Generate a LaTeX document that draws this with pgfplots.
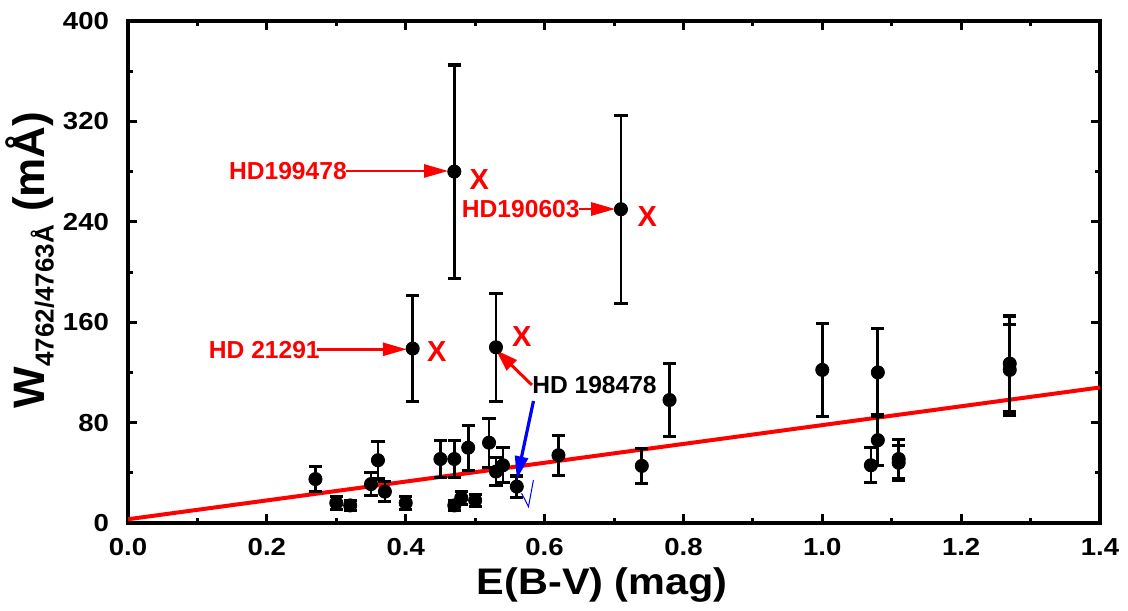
\documentclass[border=0pt]{standalone}
\usepackage{pgfplots}
\pgfplotsset{compat=1.18}
\usepackage{pgfplotstable}
\usepackage{fontspec}
\setmainfont{Liberation Sans}
\newfontfamily\axfont{Liberation Sans}[FakeStretch=1.12]
\usetikzlibrary{arrows.meta}
\pgfplotstableread{
x y e
0.27 35 10
0.30 16 5
0.32 14 4
0.35 31 9
0.36 50 15
0.37 25 8
0.40 16 5
0.45 51 15
0.47 51 15
0.47 14 4
0.48 20 5
0.49 60 18
0.50 18 5
0.52 64 19.5
0.53 41 11
0.54 46 14
0.56 29 8.5
0.62 54 16
0.74 45.5 14
0.78 98 29
1.00 122 37
1.08 120 35
1.08 66 20
1.07 46 14
1.11 48 14
1.11 51 15.5
1.27 127 38
1.27 122 36
0.41 139 42
0.47 280 85
0.53 140 43
0.71 250 75
}\datatab
\begin{document}
\begin{tikzpicture}
\begin{axis}[
  name=ax,
  scale only axis,
  width=486pt, height=251pt,
  xmin=0, xmax=1.4, ymin=0, ymax=400,
  clip=false,
  axis line style={line width=2pt},
  tick align=inside,
  xtick={0,0.2,...,1.4}, minor x tick num=1,
  ytick={0,80,...,400}, minor y tick num=1,
  major tick length=4.5pt, minor tick length=2.3pt,
  every tick/.style={line width=1.5pt, black},
  /pgf/number format/assume math mode=true,
  x tick label style={font=\axfont\bfseries\fontsize{12.3}{12.3}\selectfont, yshift=-4.3pt,
    /pgf/number format/.cd, fixed, fixed zerofill, precision=1},
  y tick label style={font=\axfont\bfseries\fontsize{12.3}{12.3}\selectfont, xshift=-6pt},
  xlabel={E(B-V) (mag)},
  xlabel style={font=\axfont\bfseries\fontsize{18.5}{18.5}\selectfont, at={(axis description cs:0.488,0)}, anchor=base, yshift=-35.5pt},
  ylabel={W\textsubscript{\fontsize{13}{13}\selectfont 4762/4763Å} (mÅ)},
  ylabel style={font=\bfseries\fontsize{22}{22}\selectfont, at={(axis description cs:-0.0854,0.524)}, anchor=base},
]
\addplot[red, line width=2pt] coordinates {(0,3) (1.4,108)};
\addplot[only marks, mark=*, mark size=3.3pt, black,
  error bars/.cd, y dir=both, y explicit,
  error bar style={line width=1.35pt, black},
  error mark options={rotate=90, mark size=3.3pt, line width=1.6pt, black}]
  table[x=x, y=y, y error=e] {\datatab};
% annotations
\node[red, font=\bfseries\fontsize{12.3}{12.3}\selectfont, anchor=east, inner sep=0pt] at (axis cs:0.3156,280.5) {HD199478};
\draw[red, line width=1.3pt, -{Triangle[length=12pt,width=6.5pt]}] (axis cs:0.314,280.5) -- (axis cs:0.461,280.5);
\node[red, font=\bfseries\fontsize{12.3}{12.3}\selectfont, anchor=east, inner sep=0pt] at (axis cs:0.651,250.5) {HD190603};
\draw[red, line width=1.3pt, -{Triangle[length=12pt,width=6.5pt]}] (axis cs:0.649,250.2) -- (axis cs:0.7017,250.2);
\node[red, font=\bfseries\fontsize{12.3}{12.3}\selectfont, anchor=east, inner sep=0pt] at (axis cs:0.2767,137.8) {HD 21291};
\draw[red, line width=1.3pt, -{Triangle[length=12pt,width=6.5pt]}] (axis cs:0.272,138.4) -- (axis cs:0.4016,138.4);
\node[black, font=\bfseries\fontsize{12.3}{12.3}\selectfont, anchor=west, inner sep=0pt] at (axis cs:0.5817,110) {HD 198478};
\draw[red, line width=1.5pt, -{Triangle[length=11pt,width=7pt]}] (axis cs:0.5817,110) -- (axis cs:0.530,137.8);
\draw[blue, line width=1.6pt, -{Triangle[length=11.5pt,width=6.5pt]}] (axis cs:0.584,97.2) -- (axis cs:0.560,34.8);
\draw[blue, line width=0.5pt] (axis cs:0.567,23.7) -- (axis cs:0.5768,13) -- (axis cs:0.584,34.3);
\node[red, font=\bfseries\fontsize{14.5}{14.5}\selectfont, inner sep=0pt] at (axis cs:0.5058,274) {X};
\node[red, font=\bfseries\fontsize{14.5}{14.5}\selectfont, inner sep=0pt] at (axis cs:0.748,244) {X};
\node[red, font=\bfseries\fontsize{14.5}{14.5}\selectfont, inner sep=0pt] at (axis cs:0.4448,136.5) {X};
\node[red, font=\bfseries\fontsize{14.5}{14.5}\selectfont, inner sep=0pt] at (axis cs:0.5673,148.4) {X};
\end{axis}
\pgfresetboundingbox
\path[use as bounding box] ([xshift=-64pt,yshift=-43.5pt]ax.south west) rectangle ([xshift=14pt,yshift=10.5pt]ax.north east);
\end{tikzpicture}
\end{document}
